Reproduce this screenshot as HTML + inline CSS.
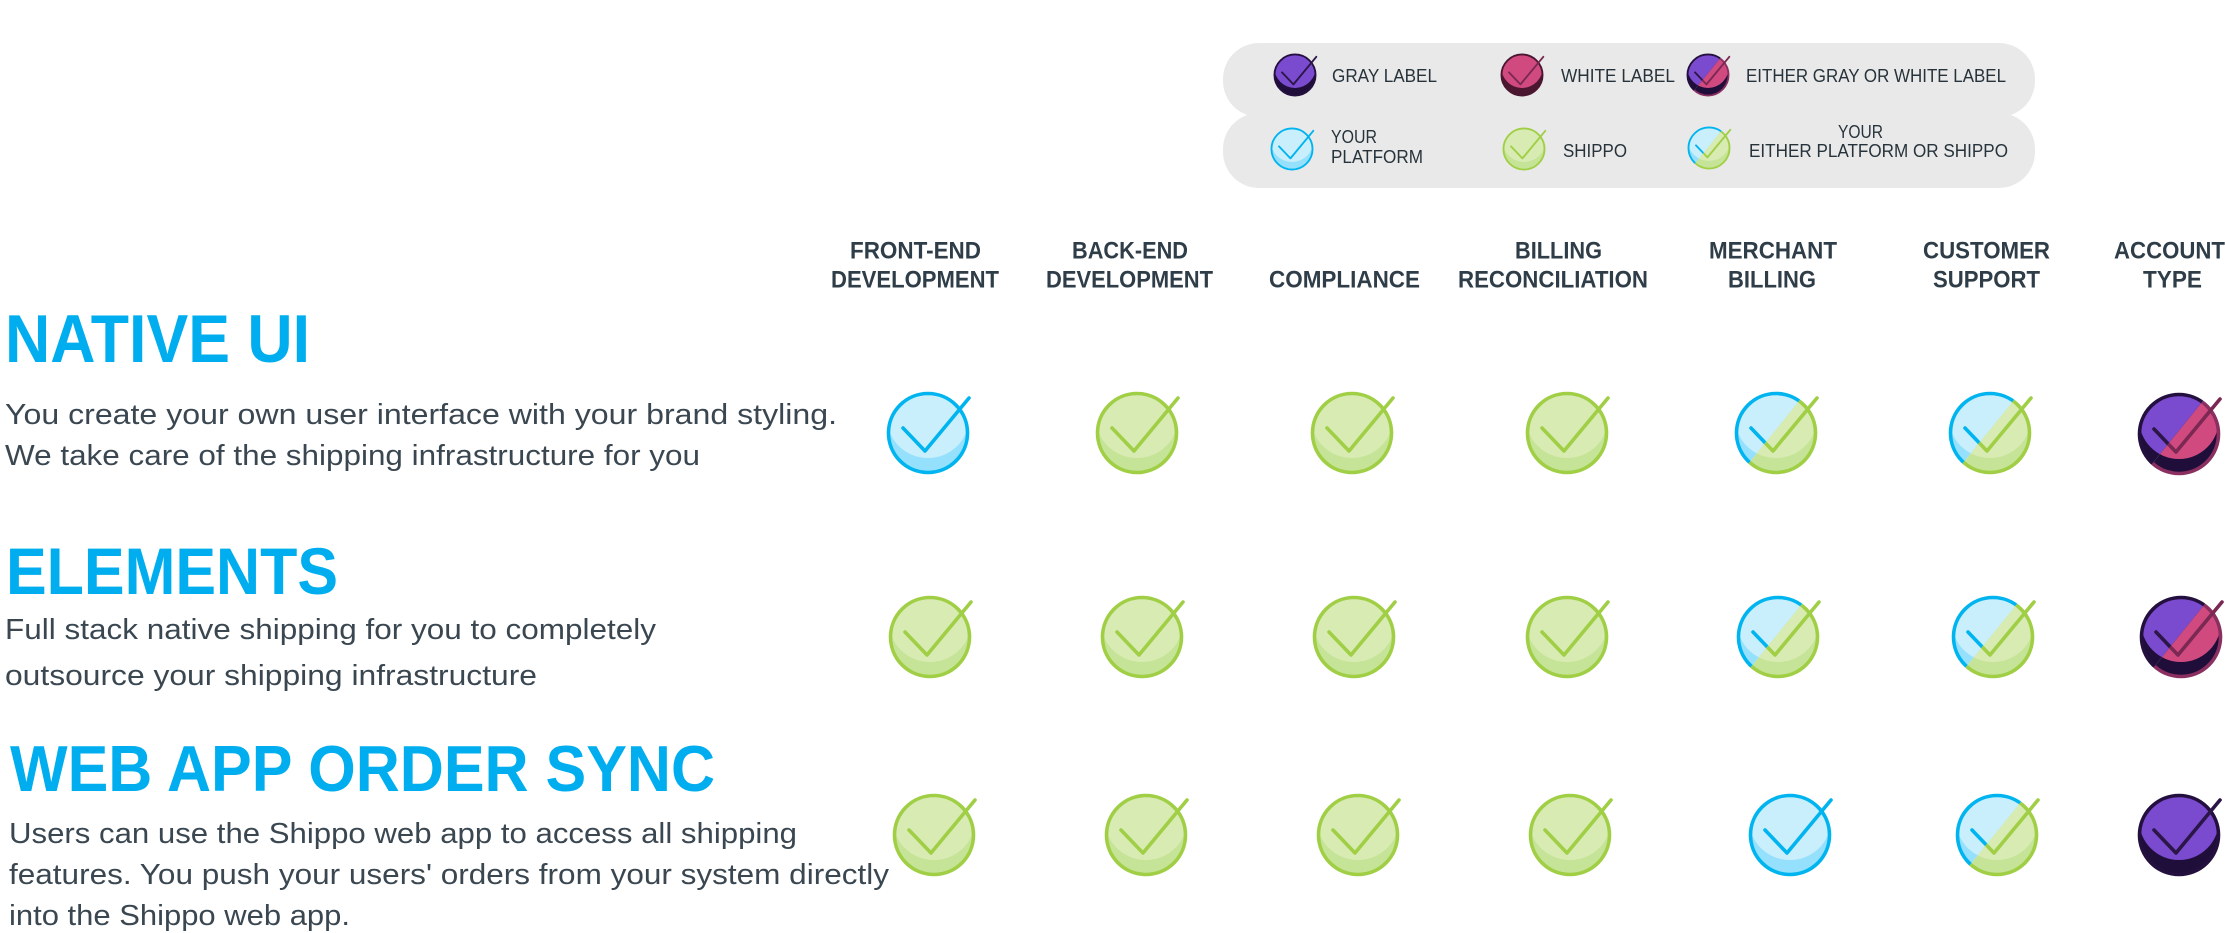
<!DOCTYPE html>
<html>
<head>
<meta charset="utf-8">
<style>
  html, body { margin: 0; padding: 0; background: #ffffff; }
  body { width: 2225px; height: 933px; overflow: hidden; }
  svg { display: block; }
  .h { font-family: "Liberation Sans", Arial, sans-serif; font-weight: bold; fill: #00aeef; }
  .d { font-family: "Liberation Sans", Arial, sans-serif; font-weight: normal; fill: #3a4751; font-size: 28.5px; }
  .c { font-family: "Liberation Sans", Arial, sans-serif; font-weight: bold; fill: #2e3d47; font-size: 24px; }
  .l { font-family: "Liberation Sans", Arial, sans-serif; font-weight: normal; fill: #27333b; font-size: 18px; }
</style>
</head>
<body>
<svg width="2225" height="933" viewBox="0 0 2225 933" xmlns="http://www.w3.org/2000/svg">
  <defs>
    <clipPath id="cc"><circle cx="0" cy="0" r="39.5"/></clipPath>
    <clipPath id="cl"><polygon points="75,-96 -78,93 -300,93 -300,-96"/></clipPath>
    <clipPath id="cr"><polygon points="75,-96 300,-96 300,93 -78,93"/></clipPath>

    <g id="gB">
      <circle cx="0" cy="0" r="39.5" fill="#94e0fd"/>
      <ellipse cx="0" cy="-15" rx="41" ry="40" fill="#c9eefc" clip-path="url(#cc)"/>
      <circle cx="0" cy="0" r="39.5" fill="none" stroke="#00b4ef" stroke-width="3.6"/>
      <polyline points="-25,-5 -3,18 41,-35" fill="none" stroke="#00b4ef" stroke-width="3.6" stroke-linecap="round" stroke-linejoin="round"/>
    </g>
    <g id="gG">
      <circle cx="0" cy="0" r="39.5" fill="#c6e497"/>
      <ellipse cx="0" cy="-15" rx="41" ry="40" fill="#d7ebb3" clip-path="url(#cc)"/>
      <circle cx="0" cy="0" r="39.5" fill="none" stroke="#a0cf46" stroke-width="3.6"/>
      <polyline points="-25,-5 -3,18 41,-35" fill="none" stroke="#a0cf46" stroke-width="3.6" stroke-linecap="round" stroke-linejoin="round"/>
    </g>
    <g id="gP">
      <circle cx="0" cy="0" r="40" fill="#200e3a"/>
      <ellipse cx="0" cy="-15" rx="40" ry="40" fill="#7b4bcf" clip-path="url(#cc)"/>
      <circle cx="0" cy="0" r="39.5" fill="none" stroke="#24103f" stroke-width="3.6"/>
      <polyline points="-25,-5 -3,18 41,-35" fill="none" stroke="#2b1647" stroke-width="3.6" stroke-linecap="round" stroke-linejoin="round"/>
    </g>
    <g id="gK">
      <circle cx="0" cy="0" r="40" fill="#200e3a"/>
      <ellipse cx="0" cy="-15" rx="40" ry="40" fill="#d04a80" clip-path="url(#cc)"/>
      <circle cx="0" cy="0" r="39.5" fill="none" stroke="#8a2f5f" stroke-width="3.6"/>
      <polyline points="-25,-5 -3,18 41,-35" fill="none" stroke="#7b2852" stroke-width="3.6" stroke-linecap="round" stroke-linejoin="round"/>
    </g>
    <g id="gW">
      <circle cx="0" cy="0" r="40" fill="#4a1630"/>
      <ellipse cx="0" cy="-15" rx="40" ry="40" fill="#d04a80" clip-path="url(#cc)"/>
      <circle cx="0" cy="0" r="39.5" fill="none" stroke="#4a1630" stroke-width="3.6"/>
      <polyline points="-25,-5 -3,18 41,-35" fill="none" stroke="#7b2852" stroke-width="3.6" stroke-linecap="round" stroke-linejoin="round"/>
    </g>
    <g id="gS">
      <g clip-path="url(#cl)"><use href="#gB"/></g>
      <g clip-path="url(#cr)"><use href="#gG"/></g>
    </g>
    <g id="gA">
      <g clip-path="url(#cl)"><use href="#gP"/></g>
      <g clip-path="url(#cr)"><use href="#gK"/></g>
    </g>
  </defs>

  <rect x="1223" y="43" width="812" height="74" rx="36" ry="36" fill="#e9e9e9"/>
  <rect x="1223" y="113" width="812" height="75" rx="36" ry="36" fill="#e9e9e9"/>

  <use href="#gP" transform="translate(1295,75) scale(0.52)"/>
  <use href="#gW" transform="translate(1522,75) scale(0.52)"/>
  <use href="#gA" transform="translate(1708,75) scale(0.52)"/>
  <use href="#gB" transform="translate(1292,149) scale(0.52)"/>
  <use href="#gG" transform="translate(1524,149) scale(0.52)"/>
  <use href="#gS" transform="translate(1709,148) scale(0.52)"/>

  <text class="l" x="1332" y="82" textLength="105" lengthAdjust="spacingAndGlyphs">GRAY LABEL</text>
  <text class="l" x="1561" y="82" textLength="114" lengthAdjust="spacingAndGlyphs">WHITE LABEL</text>
  <text class="l" x="1746" y="82" textLength="260" lengthAdjust="spacingAndGlyphs">EITHER GRAY OR WHITE LABEL</text>
  <text class="l" x="1331" y="143" textLength="46" lengthAdjust="spacingAndGlyphs">YOUR</text>
  <text class="l" x="1331" y="163" textLength="92" lengthAdjust="spacingAndGlyphs">PLATFORM</text>
  <text class="l" x="1563" y="157" textLength="64" lengthAdjust="spacingAndGlyphs">SHIPPO</text>
  <text class="l" x="1838" y="138" textLength="45" lengthAdjust="spacingAndGlyphs">YOUR</text>
  <text class="l" x="1749" y="157" textLength="259" lengthAdjust="spacingAndGlyphs">EITHER PLATFORM OR SHIPPO</text>

  <text class="c" x="850" y="258.5" textLength="131" lengthAdjust="spacingAndGlyphs">FRONT-END</text>
  <text class="c" x="831" y="287.5" textLength="168" lengthAdjust="spacingAndGlyphs">DEVELOPMENT</text>
  <text class="c" x="1072" y="258.5" textLength="116" lengthAdjust="spacingAndGlyphs">BACK-END</text>
  <text class="c" x="1046" y="287.5" textLength="167" lengthAdjust="spacingAndGlyphs">DEVELOPMENT</text>
  <text class="c" x="1269" y="287.5" textLength="151" lengthAdjust="spacingAndGlyphs">COMPLIANCE</text>
  <text class="c" x="1515" y="258.5" textLength="87" lengthAdjust="spacingAndGlyphs">BILLING</text>
  <text class="c" x="1458" y="287.5" textLength="190" lengthAdjust="spacingAndGlyphs">RECONCILIATION</text>
  <text class="c" x="1709" y="258.5" textLength="128" lengthAdjust="spacingAndGlyphs">MERCHANT</text>
  <text class="c" x="1728" y="287.5" textLength="88" lengthAdjust="spacingAndGlyphs">BILLING</text>
  <text class="c" x="1923" y="258.5" textLength="127" lengthAdjust="spacingAndGlyphs">CUSTOMER</text>
  <text class="c" x="1933" y="287.5" textLength="107" lengthAdjust="spacingAndGlyphs">SUPPORT</text>
  <text class="c" x="2114" y="258.5" textLength="111" lengthAdjust="spacingAndGlyphs">ACCOUNT</text>
  <text class="c" x="2143" y="287.5" textLength="59" lengthAdjust="spacingAndGlyphs">TYPE</text>

  <text class="h" x="5" y="362" font-size="68" textLength="305" lengthAdjust="spacingAndGlyphs">NATIVE UI</text>
  <text class="d" x="5" y="424" textLength="832" lengthAdjust="spacingAndGlyphs">You create your own user interface with your brand styling.</text>
  <text class="d" x="5" y="465" textLength="695" lengthAdjust="spacingAndGlyphs">We take care of the shipping infrastructure for you</text>

  <text class="h" x="6" y="594" font-size="66" textLength="332" lengthAdjust="spacingAndGlyphs">ELEMENTS</text>
  <text class="d" x="5" y="639" textLength="651" lengthAdjust="spacingAndGlyphs">Full stack native shipping for you to completely</text>
  <text class="d" x="5" y="685" textLength="532" lengthAdjust="spacingAndGlyphs">outsource your shipping infrastructure</text>

  <text class="h" x="10" y="791" font-size="65" textLength="705" lengthAdjust="spacingAndGlyphs">WEB APP ORDER SYNC</text>
  <text class="d" x="9" y="843" textLength="788" lengthAdjust="spacingAndGlyphs">Users can use the Shippo web app to access all shipping</text>
  <text class="d" x="9" y="884" textLength="880" lengthAdjust="spacingAndGlyphs">features. You push your users' orders from your system directly</text>
  <text class="d" x="9" y="925" textLength="341" lengthAdjust="spacingAndGlyphs">into the Shippo web app.</text>

  <use href="#gB" transform="translate(928,433)"/>
  <use href="#gG" transform="translate(1137,433)"/>
  <use href="#gG" transform="translate(1352,433)"/>
  <use href="#gG" transform="translate(1567,433)"/>
  <use href="#gS" transform="translate(1776,433)"/>
  <use href="#gS" transform="translate(1990,433)"/>
  <use href="#gA" transform="translate(2179,434)"/>

  <use href="#gG" transform="translate(930,637)"/>
  <use href="#gG" transform="translate(1142,637)"/>
  <use href="#gG" transform="translate(1354,637)"/>
  <use href="#gG" transform="translate(1567,637)"/>
  <use href="#gS" transform="translate(1778,637)"/>
  <use href="#gS" transform="translate(1993,637)"/>
  <use href="#gA" transform="translate(2181,637)"/>

  <use href="#gG" transform="translate(934,835)"/>
  <use href="#gG" transform="translate(1146,835)"/>
  <use href="#gG" transform="translate(1358,835)"/>
  <use href="#gG" transform="translate(1570,835)"/>
  <use href="#gB" transform="translate(1790,835)"/>
  <use href="#gS" transform="translate(1997,835)"/>
  <use href="#gP" transform="translate(2179,835)"/>
</svg>
</body>
</html>
